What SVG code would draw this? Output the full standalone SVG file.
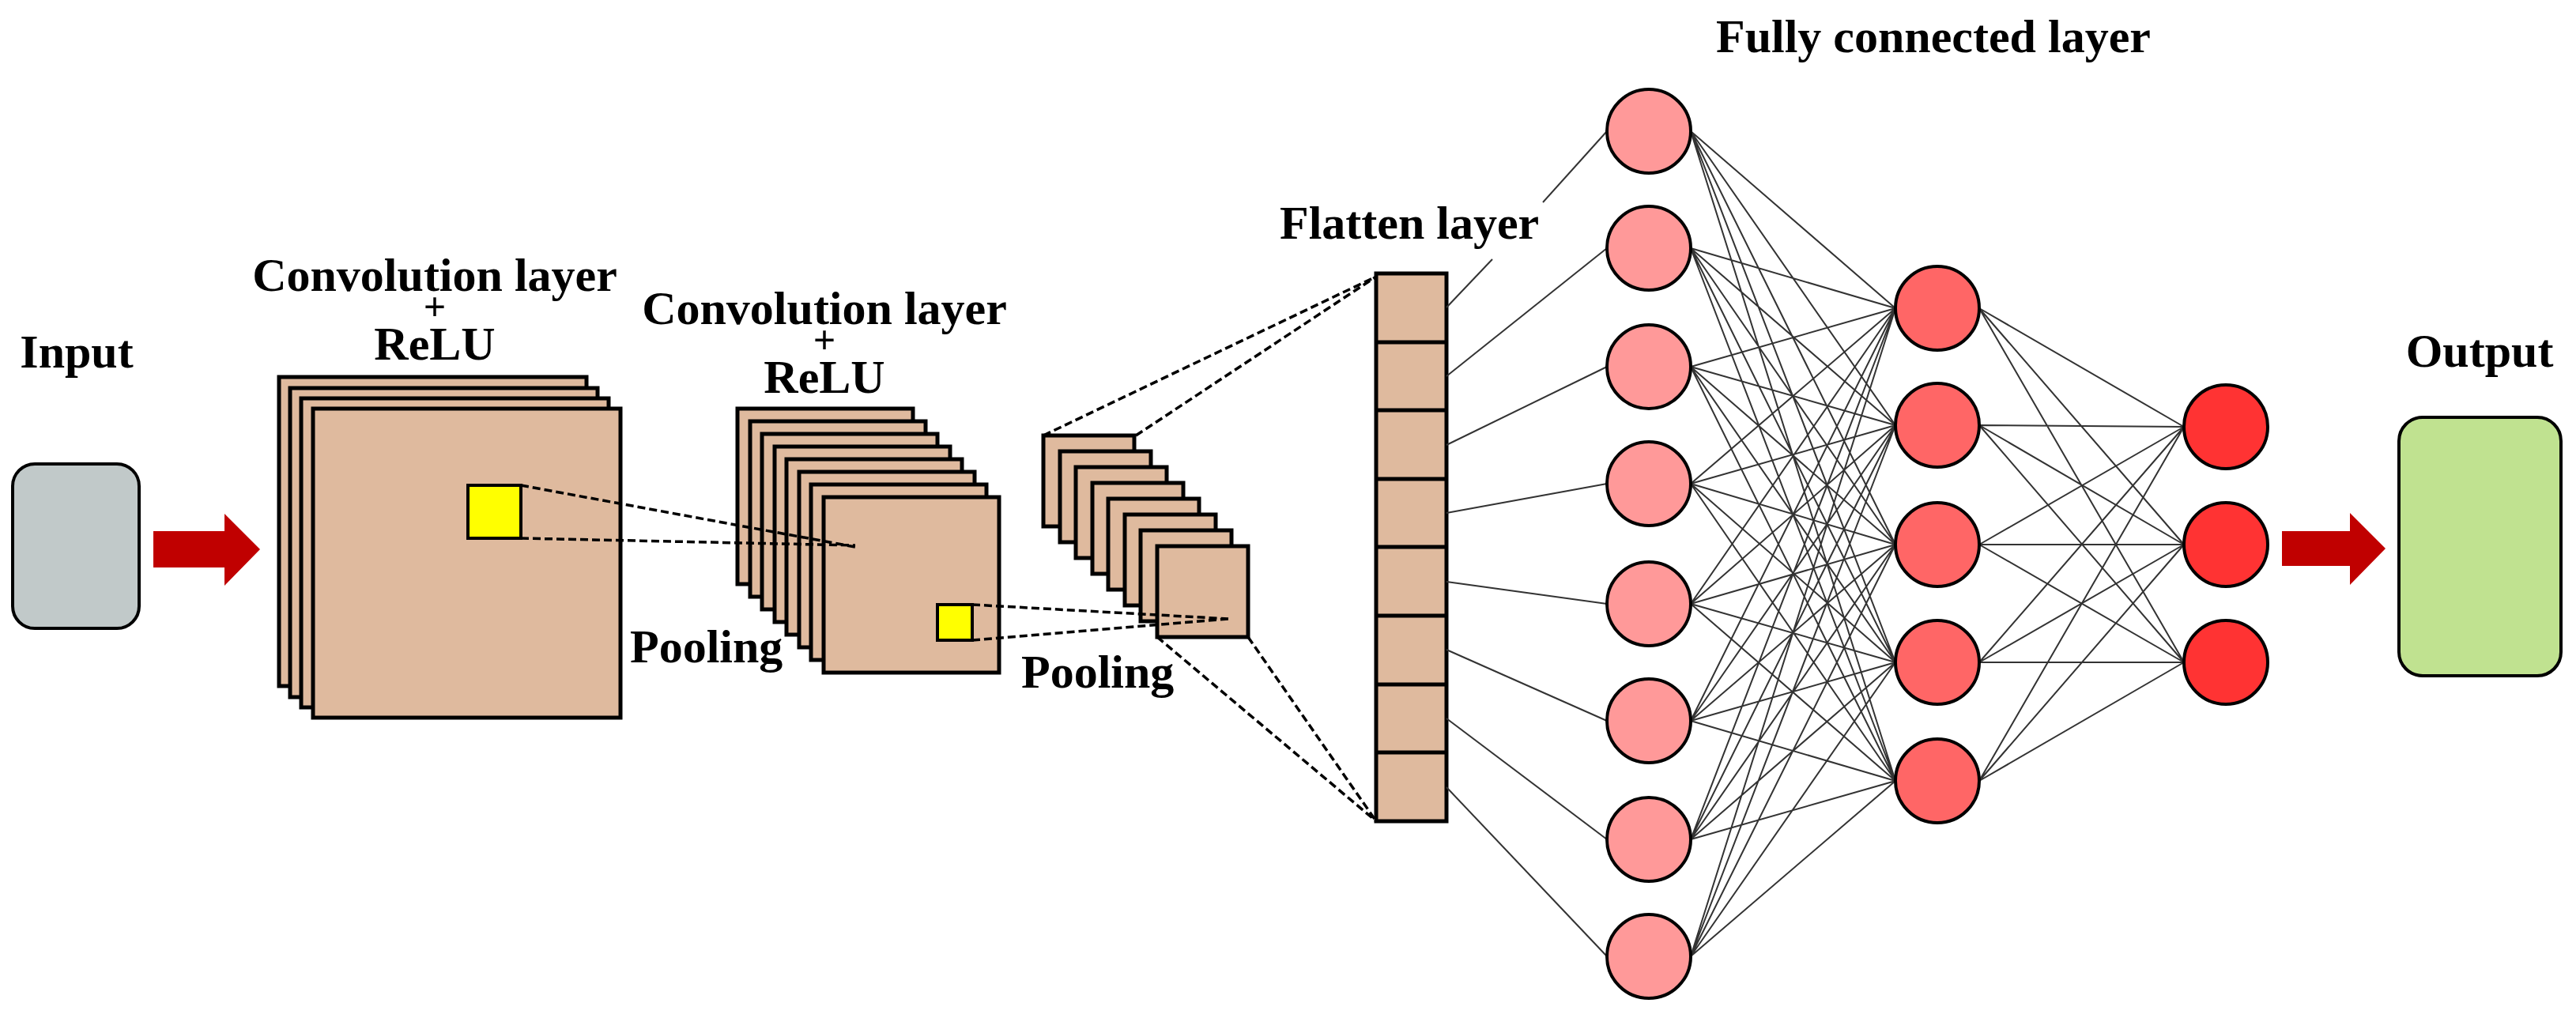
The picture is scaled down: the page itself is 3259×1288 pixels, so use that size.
<svg xmlns="http://www.w3.org/2000/svg" width="3259" height="1288" viewBox="0 0 3259 1288">
<style>
.t{font-family:"Liberation Serif","Times New Roman",serif;font-weight:bold;font-size:60px;fill:#000}
.p{font-family:"Liberation Serif","Times New Roman",serif;font-weight:bold;font-size:50px;fill:#000}
.fm{fill:#DFBA9E;stroke:#000;stroke-width:5}
.ye{fill:#FFFF00;stroke:#000;stroke-width:4}
.ds{stroke:#000;stroke-width:3.5;stroke-dasharray:10 5;fill:none}
.ln{stroke:#333;stroke-width:2}
.c1{fill:#FF9999;stroke:#000;stroke-width:4}
.c2{fill:#FF6666;stroke:#000;stroke-width:4}
.c3{fill:#FF3333;stroke:#000;stroke-width:4}
.ar{fill:#C00000}
</style>
<rect width="3259" height="1288" fill="#fff"/>
<g id="input"><rect x="16" y="587" width="160" height="208" rx="28" fill="#C1C9C9" stroke="#000" stroke-width="4"/><text class="t" x="97" y="465" text-anchor="middle">Input</text></g>
<g id="arrow1"><polygon class="ar" points="194,672 284,672 284,650 329,695 284,741 284,718 194,718"/></g>
<g id="conv1">
<rect class="fm" x="353" y="477" width="389" height="391"/>
<rect class="fm" x="367" y="491" width="389" height="391"/>
<rect class="fm" x="381" y="504" width="389" height="391"/>
<rect class="fm" x="396" y="517" width="389" height="391"/>
<rect class="ye" x="592" y="614" width="67" height="67"/>
<text class="t" x="550" y="368" text-anchor="middle">Convolution layer</text>
<text class="p" x="550" y="405" text-anchor="middle">+</text>
<text class="t" x="550" y="455" text-anchor="middle">ReLU</text>
</g>
<g id="conv2">
<rect class="fm" x="933" y="517" width="222" height="222"/>
<rect class="fm" x="949" y="533" width="222" height="222"/>
<rect class="fm" x="964" y="549" width="222" height="222"/>
<rect class="fm" x="980" y="565" width="222" height="222"/>
<rect class="fm" x="995" y="581" width="222" height="222"/>
<rect class="fm" x="1011" y="597" width="222" height="222"/>
<rect class="fm" x="1026" y="613" width="222" height="222"/>
<rect class="fm" x="1042" y="629" width="222" height="222"/>
<rect class="ye" x="1186" y="765" width="44" height="45"/>
<text class="t" x="1043" y="410" text-anchor="middle">Convolution layer</text>
<text class="p" x="1043" y="447" text-anchor="middle">+</text>
<text class="t" x="1043" y="497" text-anchor="middle">ReLU</text>
<text class="t" x="797" y="838">Pooling</text>
</g>
<g id="pool2">
<rect class="fm" x="1320" y="551" width="115" height="115"/>
<rect class="fm" x="1341" y="571" width="115" height="115"/>
<rect class="fm" x="1361" y="591" width="115" height="115"/>
<rect class="fm" x="1382" y="611" width="115" height="115"/>
<rect class="fm" x="1402" y="631" width="115" height="115"/>
<rect class="fm" x="1423" y="651" width="115" height="115"/>
<rect class="fm" x="1443" y="671" width="115" height="115"/>
<rect class="fm" x="1464" y="691" width="115" height="115"/>
<text class="t" x="1292" y="870">Pooling</text>
</g>
<g id="flatten">
<rect class="fm" x="1741" y="346" width="89" height="693"/>
<path d="M1741 433H1830M1741 519H1830M1741 606H1830M1741 692H1830M1741 779H1830M1741 866H1830M1741 952H1830" stroke="#000" stroke-width="5"/>
<text class="t" x="1619" y="302">Flatten layer</text>
</g>
<g id="connectors">
<path class="ds" d="M659 614L1082 692M659 681L1082 690M1230 765L1554 783M1230 810L1554 783M1320 551L1741 350M1437 551L1741 350M1464 806L1741 1039M1579 806L1741 1039"/>
<g class="ln">
<line x1="1830" y1="389" x2="1888" y2="328"/><line x1="1952" y1="256" x2="2033" y2="166"/><line x1="1830" y1="476" x2="2033" y2="314"/><line x1="1830" y1="563" x2="2033" y2="464"/><line x1="1830" y1="649" x2="2033" y2="612"/><line x1="1830" y1="736" x2="2033" y2="764"/><line x1="1830" y1="822" x2="2033" y2="912"/><line x1="1830" y1="909" x2="2033" y2="1062"/><line x1="1830" y1="996" x2="2033" y2="1210"/>
</g>
<g class="ln">
<path d="M2139 166L2398 390M2139 166L2398 538M2139 166L2398 689M2139 166L2398 838M2139 166L2398 988
M2139 314L2398 390M2139 314L2398 538M2139 314L2398 689M2139 314L2398 838M2139 314L2398 988
M2139 464L2398 390M2139 464L2398 538M2139 464L2398 689M2139 464L2398 838M2139 464L2398 988
M2139 612L2398 390M2139 612L2398 538M2139 612L2398 689M2139 612L2398 838M2139 612L2398 988
M2139 764L2398 390M2139 764L2398 538M2139 764L2398 689M2139 764L2398 838M2139 764L2398 988
M2139 912L2398 390M2139 912L2398 538M2139 912L2398 689M2139 912L2398 838M2139 912L2398 988
M2139 1062L2398 390M2139 1062L2398 538M2139 1062L2398 689M2139 1062L2398 838M2139 1062L2398 988
M2139 1210L2398 390M2139 1210L2398 538M2139 1210L2398 689M2139 1210L2398 838M2139 1210L2398 988
M2504 390L2763 540M2504 390L2763 689M2504 390L2763 838
M2504 538L2763 540M2504 538L2763 689M2504 538L2763 838
M2504 689L2763 540M2504 689L2763 689M2504 689L2763 838
M2504 838L2763 540M2504 838L2763 689M2504 838L2763 838
M2504 988L2763 540M2504 988L2763 689M2504 988L2763 838"/>
</g>
</g>
<g id="fc1">
<circle class="c1" cx="2086" cy="166" r="53"/><circle class="c1" cx="2086" cy="314" r="53"/><circle class="c1" cx="2086" cy="464" r="53"/><circle class="c1" cx="2086" cy="612" r="53"/><circle class="c1" cx="2086" cy="764" r="53"/><circle class="c1" cx="2086" cy="912" r="53"/><circle class="c1" cx="2086" cy="1062" r="53"/><circle class="c1" cx="2086" cy="1210" r="53"/>
<text class="t" x="2171" y="66">Fully connected layer</text>
</g>
<g id="fc2">
<circle class="c2" cx="2451" cy="390" r="53"/><circle class="c2" cx="2451" cy="538" r="53"/><circle class="c2" cx="2451" cy="689" r="53"/><circle class="c2" cx="2451" cy="838" r="53"/><circle class="c2" cx="2451" cy="988" r="53"/>
</g>
<g id="fc3">
<circle class="c3" cx="2816" cy="540" r="53"/><circle class="c3" cx="2816" cy="689" r="53"/><circle class="c3" cx="2816" cy="838" r="53"/>
</g>
<g id="arrow2"><polygon class="ar" points="2887,672 2973,672 2973,649 3018,694 2973,740 2973,716 2887,716"/></g>
<g id="output"><rect x="3035" y="528" width="205" height="327" rx="30" fill="#C0E290" stroke="#000" stroke-width="4"/><text class="t" x="3137" y="464" text-anchor="middle">Output</text></g>
</svg>
